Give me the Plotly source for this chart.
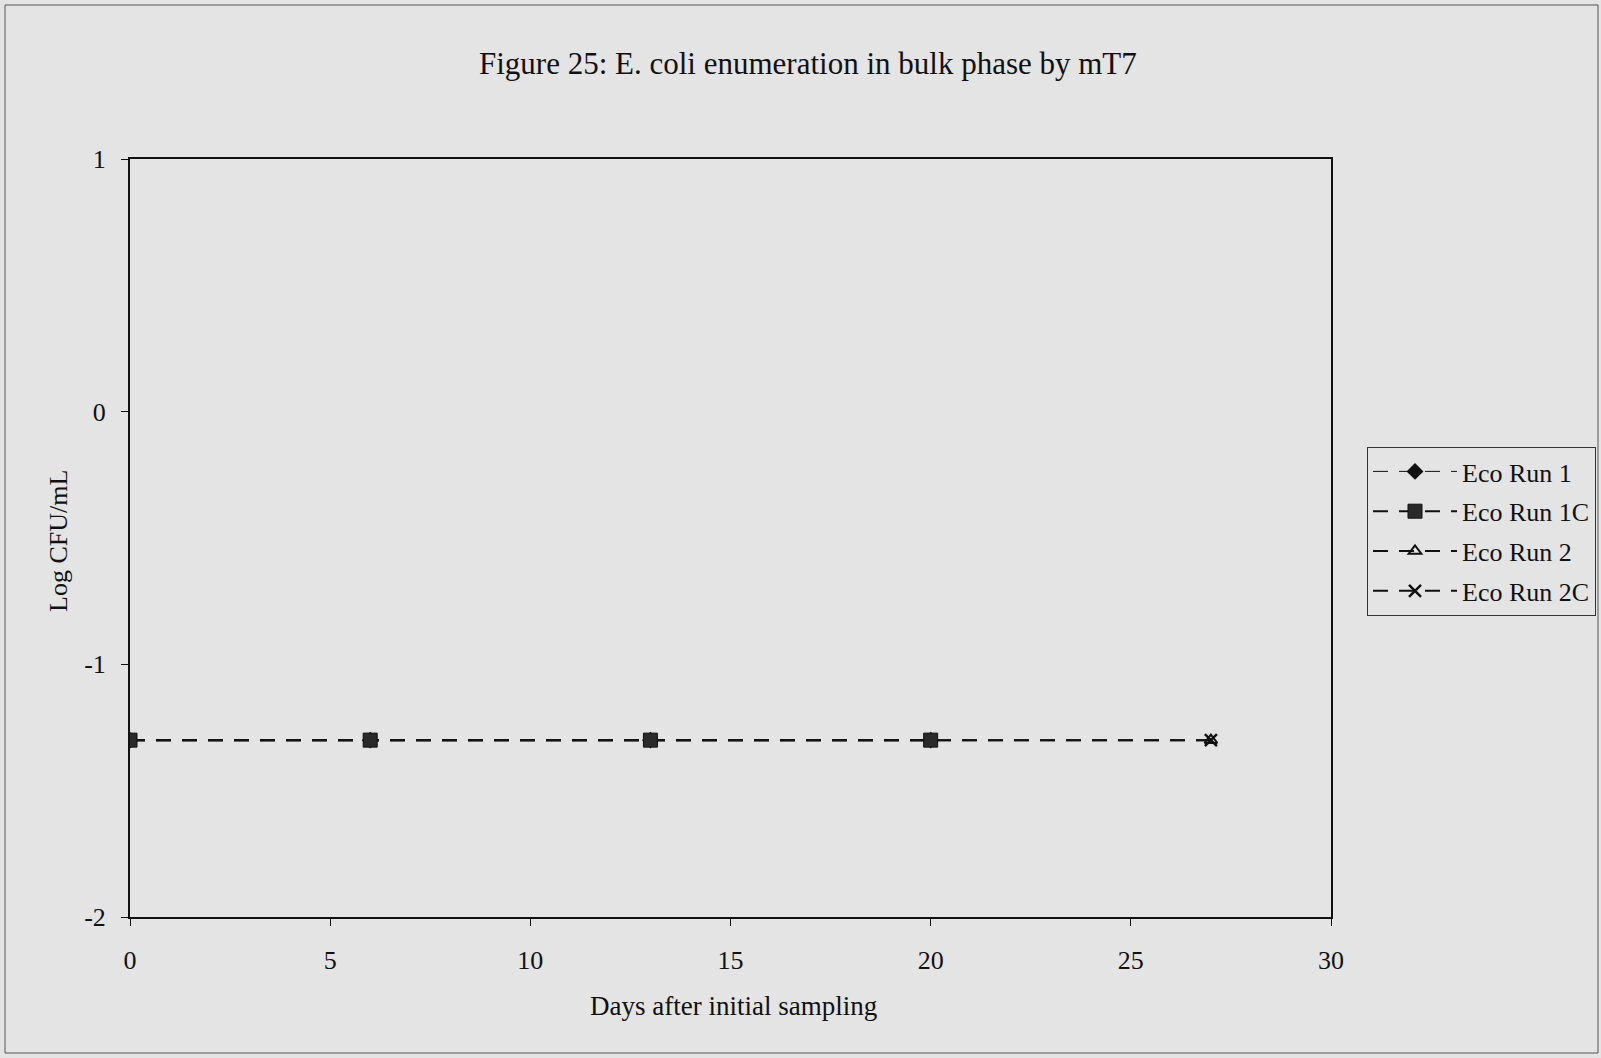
import plotly.graph_objects as go

# Data
days_run1 = [0, 6, 13, 20]
vals_run1 = [-1.3, -1.3, -1.3, -1.3]
days_run1c = [0, 6, 13, 20]
vals_run1c = [-1.3, -1.3, -1.3, -1.3]
days_run2 = [0, 6, 13, 20, 27]
vals_run2 = [-1.3, -1.3, -1.3, -1.3, -1.3]
days_run2c = [0, 6, 13, 20, 27]
vals_run2c = [-1.3, -1.3, -1.3, -1.3, -1.3]

x_ticks = [0, 5, 10, 15, 20, 25, 30]
y_ticks = [-2, -1, 0, 1]

FONT = "Liberation Serif, Times New Roman, serif"
BG = "#e4e4e4"
DASH = "15px,11px"

fig = go.Figure()

fig.add_trace(go.Scatter(
    x=days_run2, y=vals_run2, name="Eco Run 2", mode="lines+markers", legendrank=3, legendgroup="c",
    line=dict(color="#111111", width=2, dash=DASH),
    marker=dict(symbol="triangle-up-open", size=11, color="#111111", line=dict(width=2))))
fig.add_trace(go.Scatter(
    x=days_run2c, y=vals_run2c, name="Eco Run 2C", mode="lines+markers", legendrank=4, legendgroup="d",
    line=dict(color="#111111", width=2, dash=DASH),
    marker=dict(symbol="x-thin-open", size=12, color="#111111", line=dict(width=2.5, color="#111111"))))
fig.add_trace(go.Scatter(
    x=days_run1, y=vals_run1, name="Eco Run 1", mode="lines+markers", legendrank=1, legendgroup="a",
    line=dict(color="#111111", width=1, dash=DASH),
    marker=dict(symbol="diamond", size=13, color="#111111")))
fig.add_trace(go.Scatter(
    x=days_run1c, y=vals_run1c, name="Eco Run 1C", mode="lines+markers", legendrank=2, legendgroup="b",
    line=dict(color="#111111", width=2, dash=DASH),
    marker=dict(symbol="square", size=14, color="#2a2a2a", line=dict(width=1, color="#111111"))))

L, R, T, B = 130, 1331, 159, 917
W, H = 1601, 1058
pw, ph = R - L, B - T

def px_x(p):
    return (p - L) / pw

def px_y(p):
    return (B - p) / ph

fig.update_layout(
    width=W, height=H,
    margin=dict(l=L, r=W - R, t=T, b=H - B, autoexpand=False),
    paper_bgcolor=BG, plot_bgcolor=BG,
    font=dict(family=FONT, size=26, color="#111111"),
    showlegend=True,
    legend=dict(
        x=px_x(1367), y=px_y(447), xanchor="left", yanchor="top",
        bgcolor=BG, bordercolor="#333333", borderwidth=1,
        font=dict(family=FONT, size=26, color="#111111"),
        tracegroupgap=3, itemwidth=84,
    ),
    xaxis=dict(
        range=[0, 30], tickvals=x_ticks, ticktext=[str(v) for v in x_ticks],
        showgrid=False, zeroline=False, showline=True, linecolor="#111111", linewidth=2,
        mirror=True, ticks="outside", ticklen=7, tickcolor="#111111", tickwidth=1,
        ticklabelstandoff=12, tickfont=dict(family=FONT, size=26),
    ),
    yaxis=dict(
        range=[-2, 1], tickvals=y_ticks, ticktext=[str(v) for v in y_ticks],
        showgrid=False, zeroline=False, showline=True, linecolor="#111111", linewidth=2,
        mirror=True, ticks="outside", ticklen=7, tickcolor="#111111", tickwidth=1,
        ticklabelstandoff=10, tickfont=dict(family=FONT, size=26),
    ),
    annotations=[
        dict(text="Figure 25: E. coli enumeration in bulk phase by mT7",
             x=px_x(808), y=px_y(63), xref="paper", yref="paper",
             xanchor="center", yanchor="middle", showarrow=False,
             font=dict(family=FONT, size=31)),
        dict(text="Days after initial sampling",
             x=px_x(733), y=px_y(1006), xref="paper", yref="paper",
             xanchor="center", yanchor="middle", showarrow=False,
             font=dict(family=FONT, size=27)),
        dict(text="Log CFU/mL", textangle=-90,
             x=px_x(58), y=px_y(541), xref="paper", yref="paper",
             xanchor="center", yanchor="middle", showarrow=False,
             font=dict(family=FONT, size=26)),
    ],
    shapes=[
        dict(type="rect", xref="paper", yref="paper",
             x0=px_x(5), x1=px_x(1598), y0=px_y(1053), y1=px_y(5),
             line=dict(color="#555555", width=1), layer="below"),
    ],
)

fig.write_html("out.html")
